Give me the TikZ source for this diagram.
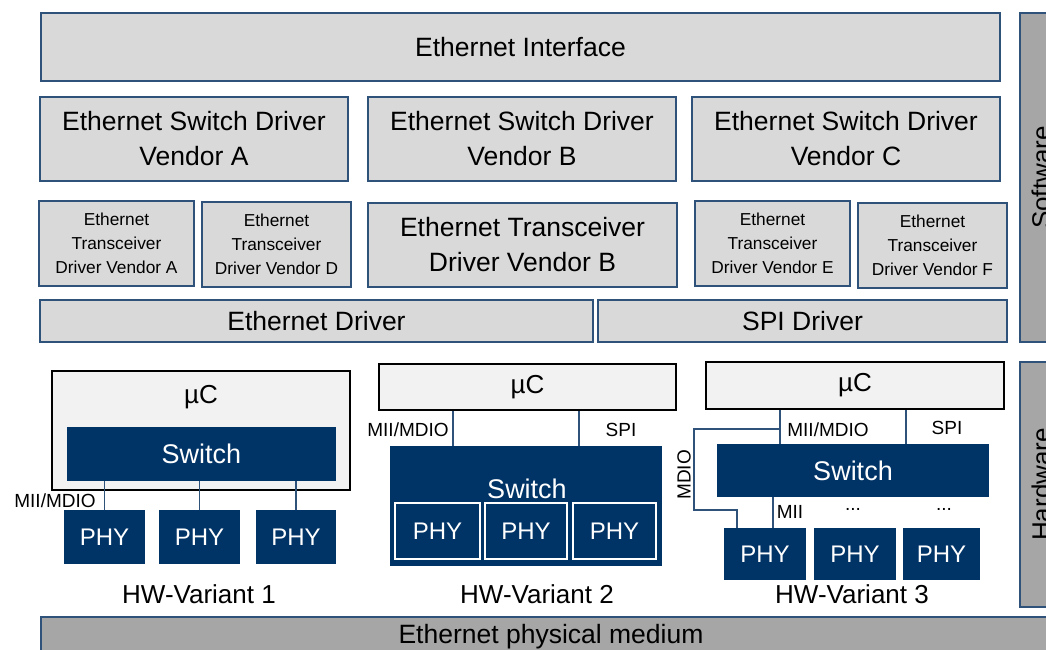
\documentclass[tikz,border=0pt]{standalone}
\usepackage{fontspec}
\setmainfont{Liberation Sans}
\definecolor{edgeblue}{RGB}{47,82,122}
\definecolor{boxgray}{RGB}{217,217,217}
\definecolor{bargray}{RGB}{166,166,166}
\definecolor{ucgray}{RGB}{242,242,242}
\definecolor{navy}{RGB}{0,51,102}
\tikzset{
  swbox/.style={draw=edgeblue, fill=boxgray, line width=1.2pt, inner sep=0pt, align=center, font=\fontsize{26.5}{35}\selectfont},
  smallbox/.style={swbox, font=\fontsize{17.3}{24}\selectfont},
  barbox/.style={draw=edgeblue, fill=bargray, line width=1.2pt, inner sep=0pt, font=\fontsize{26.5}{30}\selectfont},
  ucbox/.style={draw=black, fill=ucgray, line width=2.6pt, inner sep=0pt, font=\fontsize{26}{30}\selectfont},
  darkbox/.style={fill=navy, text=white, inner sep=0pt, font=\fontsize{27}{30}\selectfont},
  phybox/.style={darkbox, font=\fontsize{24}{28}\selectfont},
  link/.style={draw=edgeblue, line width=1.2pt},
  lbl/.style={inner sep=0pt, font=\fontsize{19}{22}\selectfont},
  biglbl/.style={inner sep=0pt, font=\fontsize{26}{30}\selectfont}
}
\begin{document}
\begin{tikzpicture}[x=1pt, y=-1pt]
        \useasboundingbox (0,0) rectangle (1046,649);
        % software stack
        \node[swbox, minimum width=959pt, minimum height=68pt] (ethif) at (520.5,47) {Ethernet Interface};
        \node[swbox, minimum width=308pt, minimum height=84pt] (swdrvA) at (194,139) {Ethernet Switch Driver\\Vendor A};
        \node[swbox, minimum width=308pt, minimum height=84pt] (swdrvB) at (522,139) {Ethernet Switch Driver\\Vendor B};
        \node[swbox, minimum width=308pt, minimum height=84pt] (swdrvC) at (846,139) {Ethernet Switch Driver\\Vendor C};
        \node[smallbox, minimum width=155pt, minimum height=85pt] (trcvA) at (116.5,243.5) {Ethernet\\Transceiver\\Driver Vendor A};
        \node[smallbox, minimum width=149pt, minimum height=85pt] (trcvD) at (276.5,244.5) {Ethernet\\Transceiver\\Driver Vendor D};
        \node[swbox, minimum width=309pt, minimum height=84pt] (trcvB) at (522.5,245) {Ethernet Transceiver\\Driver Vendor B};
        \node[smallbox, minimum width=155pt, minimum height=85pt] (trcvE) at (772.5,243.5) {Ethernet\\Transceiver\\Driver Vendor E};
        \node[smallbox, minimum width=149pt, minimum height=85pt] (trcvF) at (932.5,245.5) {Ethernet\\Transceiver\\Driver Vendor F};
        \node[swbox, minimum width=553pt, minimum height=42pt] (ethdrv) at (316.5,321) {Ethernet Driver};
        \node[swbox, minimum width=409pt, minimum height=42pt] (spidrv) at (802.5,321) {SPI Driver};

        % side bars and medium
        \node[barbox, minimum width=42pt, minimum height=329pt] (swbar) at (1041,177.5) {};
        \node[biglbl, rotate=90] (swtxt) at (swbar) {Software};
        \node[barbox, minimum width=42pt, minimum height=245pt] (hwbar) at (1041,484.5) {};
        \node[biglbl, rotate=90] (hwtxt) at (hwbar) {Hardware};
        \node[barbox, minimum width=1020pt, minimum height=40pt] (medium) at (551,637) {Ethernet physical medium};

        % HW-Variant 1
        \node[ucbox, minimum width=298pt, minimum height=119pt] (uc1) at (201,430.5) {};
        \node[biglbl] (uc1txt) at (201,397) {µC};
        \node[darkbox, minimum width=269pt, minimum height=54pt] (swi1) at (201.5,454) {Switch};
        \node[phybox, minimum width=81pt, minimum height=54pt] (phy11) at (104.5,537) {PHY};
        \node[phybox, minimum width=81pt, minimum height=54pt] (phy12) at (199.5,537) {PHY};
        \node[phybox, minimum width=80pt, minimum height=54pt] (phy13) at (296,537) {PHY};
        \draw[link] (phy11.north) -- (phy11.north |- swi1.south);
        \draw[link] (phy12.north) -- (phy12.north |- swi1.south);
        \draw[link] (phy13.north) -- (phy13.north |- swi1.south);
        \node[lbl] (mii1) at (55,501) {MII/MDIO};
        \node[biglbl] (hw1) at (199,594) {HW-Variant 1};

        % HW-Variant 2
        \node[ucbox, minimum width=297pt, minimum height=46pt] (uc2) at (527.5,387) {µC};
        \node[darkbox, minimum width=272pt, minimum height=120pt] (swi2) at (526,506) {};
        \node[darkbox] (swi2txt) at (527,489) {Switch};
        \node[phybox, draw=white, line width=2pt, minimum width=85pt, minimum height=56pt] (phy21) at (437.5,531) {PHY};
        \node[phybox, draw=white, line width=2pt, minimum width=82pt, minimum height=56pt] (phy22) at (526,531) {PHY};
        \node[phybox, draw=white, line width=2pt, minimum width=83pt, minimum height=56pt] (phy23) at (614.5,531) {PHY};
        \coordinate (m2) at (453,0);
        \coordinate (s2) at (579,0);
        \draw[link] (uc2.south -| m2) -- (swi2.north -| m2);
        \draw[link] (uc2.south -| s2) -- (swi2.north -| s2);
        \node[lbl] (mii2) at (408,430) {MII/MDIO};
        \node[lbl] (spi2) at (621,430) {SPI};
        \node[biglbl] (hw2) at (537,594) {HW-Variant 2};

        % HW-Variant 3
        \node[ucbox, minimum width=298pt, minimum height=47pt] (uc3) at (855,385.5) {µC};
        \node[darkbox, minimum width=272pt, minimum height=53pt] (swi3) at (853,470.5) {Switch};
        \node[phybox, minimum width=82pt, minimum height=52pt] (phy31) at (765,554) {PHY};
        \node[phybox, minimum width=82pt, minimum height=52pt] (phy32) at (855,554) {PHY};
        \node[phybox, minimum width=77pt, minimum height=52pt] (phy33) at (941.5,554) {PHY};
        \coordinate (m3) at (780,0);
        \coordinate (s3) at (906,0);
        \coordinate (t3) at (773,0);
        \coordinate (md1) at (694,429);
        \coordinate (md2) at (737,510);
        \draw[link] (uc3.south -| m3) -- (swi3.north -| m3);
        \draw[link] (uc3.south -| s3) -- (swi3.north -| s3);
        \draw[link] (t3 |- swi3.south) -- (t3 |- phy31.north);
        \draw[link] (m3 |- md1) -- (md1) |- (md2) -- (md2 |- phy31.north);
        \node[lbl] (mii3) at (828,430) {MII/MDIO};
        \node[lbl] (spi3) at (947,428) {SPI};
        \node[lbl] (mii31) at (790,512) {MII};
        \node[lbl] (dots32) at (853,509) {...};
        \node[lbl] (dots33) at (944,509) {...};
        \node[lbl, rotate=90] (mdio3) at (684,475) {MDIO};
        \node[biglbl] (hw3) at (852,594) {HW-Variant 3};

    \end{tikzpicture}
\end{document}
